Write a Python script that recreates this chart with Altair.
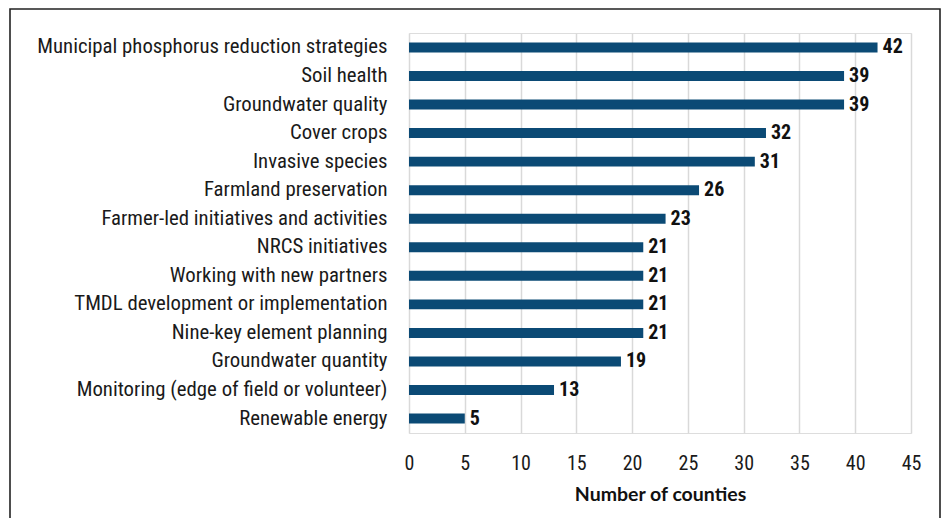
import altair as alt
import pandas as pd

categories = [
    "Municipal phosphorus reduction strategies",
    "Soil health",
    "Groundwater quality",
    "Cover crops",
    "Invasive species",
    "Farmland preservation",
    "Farmer-led initiatives and activities",
    "NRCS initiatives",
    "Working with new partners",
    "TMDL development or implementation",
    "Nine-key element planning",
    "Groundwater quantity",
    "Monitoring (edge of field or volunteer)",
    "Renewable energy",
]
counts = [42, 39, 39, 32, 31, 26, 23, 21, 21, 21, 21, 19, 13, 5]
x_ticks = [0, 5, 10, 15, 20, 25, 30, 35, 40, 45]

df = pd.DataFrame({"topic": categories, "count": counts})

NARROW = "Liberation Sans Narrow, Roboto Condensed, DejaVu Sans Condensed, sans-serif"

y_enc = alt.Y(
    "topic:N",
    sort=categories,
    scale=alt.Scale(paddingInner=0.65, paddingOuter=0.33),
    axis=alt.Axis(
        title=None, domain=False, ticks=False, labelPadding=22,
        labelFont=NARROW, labelFontSize=20.8, labelColor="#1a1a1a", labelLimit=420,
    ),
)

bars = alt.Chart(df).mark_bar(color="#0b4a75").encode(
    x=alt.X(
        "count:Q",
        scale=alt.Scale(domain=[0, 45], nice=False),
        axis=alt.Axis(
            values=x_ticks, title="Number of counties", domain=False, ticks=False,
            grid=True, gridColor="#d9d9d9", gridWidth=1.5, labelFlush=False,
            labelFont=NARROW, labelFontSize=20, labelColor="#1a1a1a", labelPadding=20,
            titleFont="Lato", titleFontSize=19.5, titleFontWeight="bold",
            titleColor="#111111", titlePadding=12,
        ),
    ),
    y=y_enc,
)

labels = alt.Chart(df).mark_text(
    align="left", baseline="middle", dx=5, font=NARROW, fontSize=20,
    fontWeight="bold", color="#111111",
).encode(
    x="count:Q",
    y=alt.Y("topic:N", sort=categories),
    text="count:Q",
)

frame = alt.Chart(df.head(1)).mark_rect(
    filled=False, stroke="#222222", strokeWidth=1.6, clip=False,
).encode(
    x=alt.value(-399), x2=alt.value(531), y=alt.value(-24), y2=alt.value(600),
)

chart = alt.layer(bars, labels, frame).properties(
    width=502, height=400,
    autosize=alt.AutoSizeParams(type="none"),
    padding={"left": 401, "top": 25, "right": 31, "bottom": 85},
).configure_view(stroke=None).configure(background="white")

chart.save("out.html", embed_options={"renderer": "svg", "actions": False})
